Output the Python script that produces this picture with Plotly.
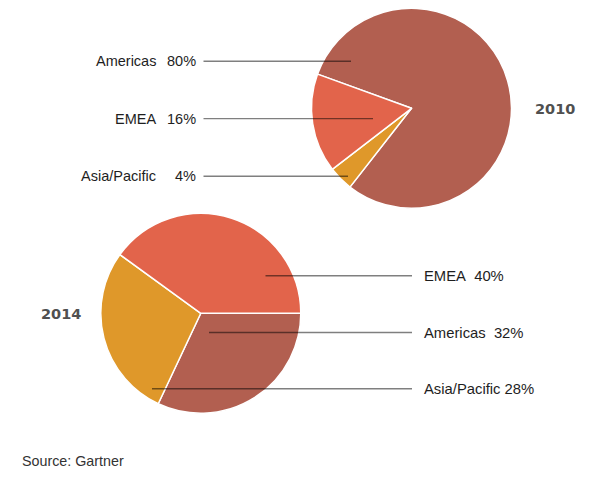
import plotly.graph_objects as go

W, H = 603, 491

# ---- data ----
regions_2010 = ["Americas", "Asia/Pacific", "EMEA"]
values_2010 = [80, 4, 16]
regions_2014 = ["Americas", "Asia/Pacific", "EMEA"]
values_2014 = [32, 28, 40]

# label order as shown beside each pie (top to bottom)
label_order_2010 = ["Americas", "EMEA", "Asia/Pacific"]
label_order_2014 = ["EMEA", "Americas", "Asia/Pacific"]

colors = {"Americas": "#B25F50", "EMEA": "#E2644B", "Asia/Pacific": "#DF982A"}

# ---- layout constants (pixels) ----
R = 100
c2010 = (411.5, 108.3)
c2014 = (200.8, 313.3)


def dom(c):
    return dict(x=[(c[0] - R) / W, (c[0] + R) / W],
                y=[1 - (c[1] + R) / H, 1 - (c[1] - R) / H])


def px(x):
    return x / W


def py(y):
    return 1 - y / H


fig = go.Figure()
fig.add_trace(go.Pie(
    labels=regions_2010, values=values_2010, sort=False, direction="clockwise",
    rotation=-70, domain=dom(c2010), textinfo="none", hoverinfo="label+percent",
    marker=dict(colors=[colors[r] for r in regions_2010], line=dict(color="white", width=1.5)),
    showlegend=False))
fig.add_trace(go.Pie(
    labels=regions_2014, values=values_2014, sort=False, direction="clockwise",
    rotation=90, domain=dom(c2014), textinfo="none", hoverinfo="label+percent",
    marker=dict(colors=[colors[r] for r in regions_2014], line=dict(color="white", width=1.5)),
    showlegend=False))

FONT = "Liberation Sans, Arial, sans-serif"
TXT = dict(family=FONT, size=14.5, color="#1e1e1e")
TXT2 = dict(family=FONT, size=14.8, color="#1e1e1e")
LINE = dict(color="rgba(0,0,0,0.5)", width=1.4)

shapes = []
annotations = []

# 2010 labels (left side, two right-aligned columns)
rows_2010 = [61.3, 118.6, 176.2]
ends_2010 = [351, 373, 348]
v2010 = dict(zip(regions_2010, values_2010))
for lab, y, xe in zip(label_order_2010, rows_2010, ends_2010):
    annotations.append(dict(x=px(157.5), y=py(y), xref="paper", yref="paper", text=lab,
                            showarrow=False, xanchor="right", yanchor="middle", font=TXT))
    annotations.append(dict(x=px(197.5), y=py(y), xref="paper", yref="paper", text=f"{v2010[lab]}%",
                            showarrow=False, xanchor="right", yanchor="middle", font=TXT))
    shapes.append(dict(type="line", xref="paper", yref="paper", x0=px(203.5), x1=px(xe),
                       y0=py(y), y1=py(y), line=LINE, layer="above"))

# 2014 labels (right side)
rows_2014 = [275.8, 332.5, 388.8]
starts_2014 = [265.5, 209, 152]
gaps_2014 = {"EMEA": "\u00a0\u00a0", "Americas": "\u00a0\u00a0", "Asia/Pacific": "\u00a0"}
v2014 = dict(zip(regions_2014, values_2014))
for lab, y, xs in zip(label_order_2014, rows_2014, starts_2014):
    annotations.append(dict(x=px(421.5), y=py(y), xref="paper", yref="paper",
                            text=f"{lab}{gaps_2014[lab]}{v2014[lab]}%",
                            showarrow=False, xanchor="left", yanchor="middle", font=TXT2))
    shapes.append(dict(type="line", xref="paper", yref="paper", x0=px(xs), x1=px(412),
                       y0=py(y), y1=py(y), line=LINE, layer="above"))

YEAR = dict(family="DejaVu Sans, sans-serif", size=14.5, color="#505050")
annotations.append(dict(x=px(555), y=py(109), xref="paper", yref="paper", text="<b>2010</b>",
                        showarrow=False, xanchor="center", yanchor="middle", font=YEAR))
annotations.append(dict(x=px(60.5), y=py(314), xref="paper", yref="paper", text="<b>2014</b>",
                        showarrow=False, xanchor="center", yanchor="middle", font=YEAR))
annotations.append(dict(x=px(20), y=py(461), xref="paper", yref="paper", text="Source: Gartner",
                        showarrow=False, xanchor="left", yanchor="middle",
                        font=dict(family=FONT, size=14.3, color="#333333")))

fig.update_layout(
    width=W, height=H, margin=dict(l=0, r=0, t=0, b=0),
    paper_bgcolor="white", plot_bgcolor="white",
    shapes=shapes, annotations=annotations,
)

fig.write_html("out.html")
